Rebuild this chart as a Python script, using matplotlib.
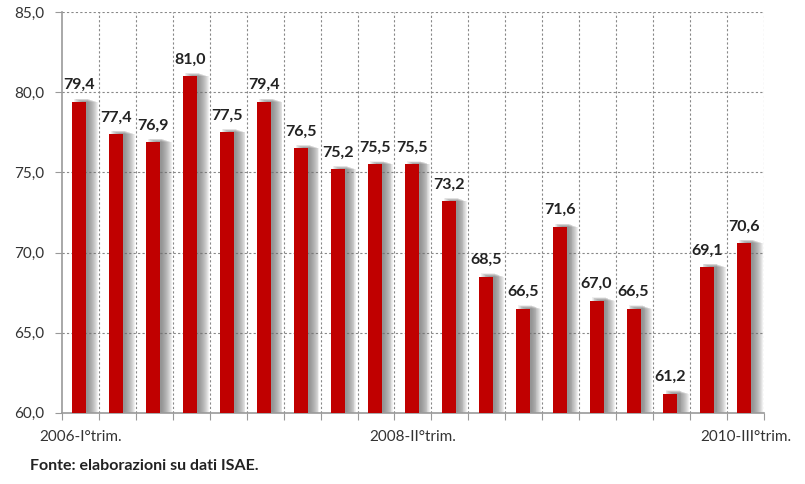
import matplotlib.pyplot as plt
import numpy as np

plt.rcParams['font.family'] = ['Lato', 'DejaVu Sans']

values = [79.4, 77.4, 76.9, 81.0, 77.5, 79.4, 76.5, 75.2, 75.5, 75.5,
          73.2, 68.5, 66.5, 71.6, 67.0, 66.5, 61.2, 69.1, 70.6]
tick_pos = [0, 9, 18]
tick_labels = ['2006-I°trim.', '2008-II°trim.', '2010-III°trim.']
yticks = [60, 65, 70, 75, 80, 85]

fig = plt.figure(figsize=(8.05, 4.84), dpi=100)
ax = fig.add_axes([0.077, 0.147, 0.872, 0.828])

x = np.arange(len(values))
w = 0.38
off = -0.03

# soft shadow to the right of each bar
for k in range(11):
    ax.bar(x + off + w * 0.15 + k * 0.025, np.array(values) - 60 + 0.2 - k * 0.02,
           width=w, bottom=60, color='#707070', alpha=0.11, zorder=2, linewidth=0)
ax.bar(x + off, np.array(values) - 60, width=w, bottom=60,
       color='#c00000', zorder=3, linewidth=0)

for xi, v in zip(x, values):
    ax.text(xi + off, v + 0.6, f'{v:.1f}'.replace('.', ','), ha='center',
            va='bottom', fontsize=11.5, fontweight='bold', color='#222222')

ax.set_xlim(-0.5, len(values) - 0.5)
ax.set_ylim(60, 85)
ax.set_yticks(yticks)
ax.set_yticklabels([f'{t:.1f}'.replace('.', ',') for t in yticks],
                   fontsize=11, color='#333333')

# category boundaries
ax.set_xticks(np.arange(len(values) + 1) - 0.5)
ax.set_xticklabels([])
ax.tick_params(axis='x', length=5, color='#999999')
ax.tick_params(axis='y', length=5, color='#999999', pad=8)
for b in np.arange(1, len(values) + 1) - 0.5:
    ax.axvline(b, color='#888888', linestyle=(0, (2, 2)), linewidth=0.8, zorder=1)
for t in yticks[1:]:
    ax.axhline(t, color='#888888', linestyle=(0, (2, 2)), linewidth=0.8, zorder=1)

for p, lab in zip(tick_pos, tick_labels):
    ax.text(p, 58.9, lab, ha='center', va='top', fontsize=11, color='#333333')

for s in ['top', 'right']:
    ax.spines[s].set_visible(False)
for s in ['left', 'bottom']:
    ax.spines[s].set_color('#999999')
    ax.spines[s].set_linewidth(1.2)

fig.text(0.037, 0.022, 'Fonte: elaborazioni su dati ISAE.', fontsize=11.5,
         fontweight='bold', color='#222222', va='bottom')

fig.savefig('out.png', dpi=100)
